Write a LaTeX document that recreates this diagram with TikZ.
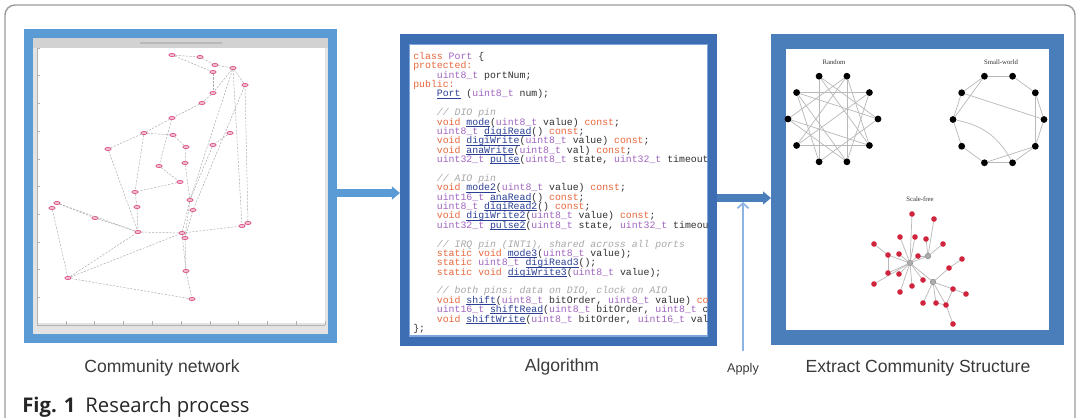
\documentclass[tikz,border=0pt]{standalone}
\usepackage{fontspec}
\setmainfont{Liberation Sans}
\setmonofont{Liberation Mono}
\newfontfamily\capfont{Open Sans}
\newfontfamily\plotfont{Liberation Serif}
\usepackage{xcolor}
\usetikzlibrary{positioning, shapes.geometric, arrows.meta, calc}
\definecolor{frameg}{HTML}{9A9A9A}
\definecolor{lightblue}{HTML}{5B9BD5}
\definecolor{midblue}{HTML}{4A7EBB}
\definecolor{darkblue}{HTML}{3D6DB3}
\definecolor{edgeblue}{HTML}{7FA7DC}
\definecolor{applyblue}{HTML}{8DB3E2}
\definecolor{labelgray}{HTML}{3A3A3A}
\definecolor{cdkw}{HTML}{E8673C}
\definecolor{cdty}{HTML}{A064C0}
\definecolor{cdfn}{HTML}{2B3F94}
\definecolor{cdcm}{HTML}{A8A8A8}
\definecolor{cdtx}{HTML}{303030}
\definecolor{netpink}{HTML}{D8407A}
\definecolor{sfred}{HTML}{D0243C}
% syntax colouring for the listing
\newcommand\kw[1]{\textcolor{cdkw}{#1}}
\newcommand\ty[1]{\textcolor{cdty}{#1}}
\newcommand\fn[1]{\textcolor{cdfn}{\setbox0\hbox{#1}\rlap{\rule[-0.9pt]{\wd0}{0.35pt}}\box0}}
\newcommand\cmt[1]{\textcolor{cdcm}{\itshape #1}}
\newcommand\ind{\phantom{0000}}
% fixed line pitch
\newcommand\codefont{\ttfamily\fontsize{7}{6.67}\selectfont
  \lineskiplimit=-20pt\relax\lineskip=0pt\relax}

\begin{document}
\begin{tikzpicture}[x=0.025cm, y=-0.025cm,
  panlabel/.style={font=\fontsize{12.5}{14}\selectfont, text=labelgray},
  graphtitle/.style={font=\plotfont\fontsize{4.8}{5}\selectfont, text=black!80},
  rdot/.style={circle, fill=black, inner sep=0pt, minimum size=0.17cm},
  sfdot/.style={circle, fill=sfred, inner sep=0pt, minimum size=0.14cm},
  hub/.style={circle, fill=gray!65, draw=gray, line width=0.3pt, inner sep=0pt, minimum size=0.14cm},
  gedge/.style={draw=gray!55, line width=0.5pt},
  netdot/.style={ellipse, draw=netpink, fill=netpink!35, line width=0.4pt, inner sep=0pt,
                 minimum width=0.16cm, minimum height=0.08cm},
  netedge/.style={draw=gray!65, dash pattern=on 1.5pt off 1pt, line width=0.35pt},
  flow/.style={line width=5pt, -{Triangle[length=0.2cm, width=0.32cm]}}]

  \useasboundingbox (0,0) rectangle (1080,417);
  \begin{scope}
    \clip (0,0) rectangle (1080,417);
    \draw[frameg, line width=1pt, rounded corners=0.25cm] (5,5) rectangle (1075,440);
  \end{scope}

  % panels
  \node[rectangle, draw=lightblue, line width=6.4pt, fill=white, inner sep=0pt,
        minimum width=7.6cm, minimum height=7.625cm] (net) at (180.5,186) {};
  \node[rectangle, draw=darkblue, line width=7.1pt, fill=white, inner sep=0pt,
        minimum width=7.675cm, minimum height=7.55cm] (algo) at (558.5,190) {};
  \node[rectangle, draw=midblue, line width=10.6pt, fill=white, inner sep=0pt,
        minimum width=6.95cm, minimum height=7.4cm] (comm) at (917.5,189.5) {};
  \draw[edgeblue, line width=0.9pt] (409.5,44.5) rectangle (707.5,336);

  % plot window of the community network
  \fill[gray!22] (33,38) rectangle (328,334);
  \fill[gray!35] (33,38) rectangle (328,48);
  \draw[gray!55, line width=0.8pt] (140,43) -- (222,43);
  \fill[white] (37,48) rectangle (325,323);
  \draw[gray!60, line width=0.4pt] (37,48) -- (37,325) -- (325,325);
  \foreach \i in {0,...,10} {
    \draw[gray!60, line width=0.4pt] (37+28.8*\i,325) -- (37+28.8*\i,321);
    \draw[gray!60, line width=0.4pt] (37,325-27.7*\i) -- (40,325-27.7*\i);
  }
  \foreach \n/\x/\y in {n1/172/55, n2/200/57, n3/215/65, n4/233/68, n5/213/72,
      n6/245/85, n7/213/93, n8/202/103, n9/172/118, n10/144/133, n11/173/135,
      n12/108/149, n13/186/147, n14/213/145, n15/230/133, n16/159/166,
      n17/185/163, n18/180/182, n19/135/192, n20/190/200, n21/137/207,
      n22/193/210, n23/57/203, n24/52/208, n25/95/218, n26/138/232,
      n27/182/233, n28/248/223, n29/242/226, n30/185/238, n31/68/278,
      n32/186/271, n33/192/299}
    \node[netdot] (\n) at (\x,\y) {};
  \foreach \a/\b in {n1/n2, n2/n3, n1/n5, n3/n4, n4/n6, n5/n7, n4/n7, n4/n29,
      n7/n8, n8/n9, n9/n10, n10/n12, n12/n26, n10/n11, n11/n13, n10/n19,
      n19/n21, n21/n26, n16/n18, n18/n19, n4/n20, n6/n22, n15/n14, n14/n20,
      n13/n17, n17/n20, n20/n30, n30/n32, n32/n33, n20/n27, n27/n32, n23/n26,
      n24/n31, n23/n25, n25/n26, n26/n27, n27/n29, n29/n28, n28/n6, n31/n26,
      n31/n27, n31/n33, n22/n30, n9/n16}
    \draw[netedge] (\a) -- (\b);

  % listing
  \begin{scope}
    \clip (410,45) rectangle (707,335);
    \node[anchor=north west, inner sep=0pt, align=left, text=cdtx,
          font=\codefont] (code) at (413,52) {%
      \kw{class} \ty{Port} \{\\
      \kw{protected:}\\
      \ind\ty{uint8\_t} portNum;\\
      \kw{public:}\\
      \ind\fn{Port} (\ty{uint8\_t} num);\\
      ~\\
      \ind\cmt{// DIO pin}\\
      \ind\kw{void} \fn{mode}(\ty{uint8\_t} value) \kw{const};\\
      \ind\ty{uint8\_t} \fn{digiRead}() \kw{const};\\
      \ind\kw{void} \fn{digiWrite}(\ty{uint8\_t} value) \kw{const};\\
      \ind\kw{void} \fn{anaWrite}(\ty{uint8\_t} val) \kw{const};\\
      \ind\ty{uint32\_t} \fn{pulse}(\ty{uint8\_t} state, \ty{uint32\_t} timeout\\
      ~\\
      \ind\cmt{// AIO pin}\\
      \ind\kw{void} \fn{mode2}(\ty{uint8\_t} value) \kw{const};\\
      \ind\ty{uint16\_t} \fn{anaRead}() \kw{const};\\
      \ind\ty{uint8\_t} \fn{digiRead2}() \kw{const};\\
      \ind\kw{void} \fn{digiWrite2}(\ty{uint8\_t} value) \kw{const};\\
      \ind\ty{uint32\_t} \fn{pulse2}(\ty{uint8\_t} state, \ty{uint32\_t} timeout\\
      ~\\
      \ind\cmt{// IRQ pin (INT1), shared across all ports}\\
      \ind\kw{static void} \fn{mode3}(\ty{uint8\_t} value);\\
      \ind\kw{static} \ty{uint8\_t} \fn{digiRead3}();\\
      \ind\kw{static void} \fn{digiWrite3}(\ty{uint8\_t} value);\\
      ~\\
      \ind\cmt{// both pins: data on DIO, clock on AIO}\\
      \ind\kw{void} \fn{shift}(\ty{uint8\_t} bitOrder, \ty{uint8\_t} value) \kw{const}\\
      \ind\ty{uint16\_t} \fn{shiftRead}(\ty{uint8\_t} bitOrder, \ty{uint8\_t} count\\
      \ind\kw{void} \fn{shiftWrite}(\ty{uint8\_t} bitOrder, \ty{uint16\_t} value\\
      \};};
  \end{scope}

  % random and small-world rings
  \node[graphtitle] (rtitle) at (834,62) {Random};
  \node[graphtitle] (wtitle) at (1001,62) {Small-world};
  \foreach \k in {0,...,9} {
    \node[rdot] (r\k) at ($(833,119)+(\k*36:45)$) {};
    \node[rdot] (w\k) at ($(998.5,119.5)+(\k*36:45.5)$) {};
  }
  \foreach \a/\b in {0/3, 0/7, 1/4, 1/8, 2/6, 2/9, 3/7, 4/8, 5/8, 5/2, 6/9,
      7/1, 9/4, 6/3, 8/2, 0/6, 5/1}
    \draw[gedge] (r\a) -- (r\b);
  \foreach \a in {0,...,9}
    \pgfmathtruncatemacro\b{mod(\a+1,10)}
    \draw[gedge] (w\a) -- (w\b);
  \foreach \a/\b in {6/0, 7/5, 9/1, 3/1}
    \draw[gedge] (w\a) -- (w\b);
  \draw[gedge] (w5) to[bend left=25] (w2);

  % scale-free graph
  \node[graphtitle] (stitle) at (920,199) {Scale-free};
  \foreach \n/\x/\y in {s1/912/214, s2/934/219, s3/900/237, s4/915/237,
      s5/926/239, s6/943/244, s7/874/244, s8/888/255, s9/899/254, s10/918/256,
      s11/962/259, s12/949/268, s13/888/273, s14/899/274, s15/923/280,
      s16/874/284, s17/912/286, s18/900/292, s19/953/289, s20/966/294,
      s21/923/303, s22/936/303, s23/946/305, s24/953/324}
    \coordinate (\n) at (\x,\y);
  \node[hub] (h1) at (910,263) {};
  \node[hub] (h2) at (928,256) {};
  \node[hub] (h3) at (933,282) {};
  \foreach \a/\b in {h1/s1, h1/s3, h1/s4, h1/s8, h1/s9, h1/s10, h1/s13, h1/s14,
      h1/s15, h1/s16, h1/s17, h1/s18, h1/h2, h1/h3, h2/s2, h2/s5, h2/s6,
      h2/s10, h3/s12, s12/s11, h3/s19, s19/s20, h3/s21, h3/s22, h3/s23,
      s23/s19, s23/s24, s22/s23, s7/s8, s8/s13}
    \draw[gedge] (\a) -- (\b);
  \foreach \n in {1,...,24}
    \node[sfdot] (sf\n) at (s\n) {};

  % connectors
  \draw[flow, lightblue] ($(net.east)+(0,7)$) -- ($(net.east -| algo.west)+(0,7)$);
  \draw[flow, midblue] ($(algo.east)+(0,8)$) -- ($(algo.east -| comm.west)+(0,8)$);
  \node[font=\fontsize{9}{10}\selectfont, text=labelgray] (apply) at (743,369) {Apply};
  \coordinate (applytip) at (743,202);
  \draw[applyblue, line width=1.2pt, -{Straight Barb[length=0.13cm, width=0.28cm]}]
    ($(apply.north)+(0,-7)$) -- (applytip);

  % captions under the panels
  \node[panlabel] (netlabel) at (162,368) {Community network};
  \node[panlabel] (algolabel) at (562,367) {Algorithm};
  \node[panlabel] (commlabel) at (918,368) {Extract Community Structure};

  \node[anchor=base west, inner sep=0pt, font=\capfont\fontsize{14.4}{16}\selectfont,
        text=black!85] (fig) at (22,412) {\textbf{Fig. 1}\hspace{0.5em}Research process};
\end{tikzpicture}
\end{document}
